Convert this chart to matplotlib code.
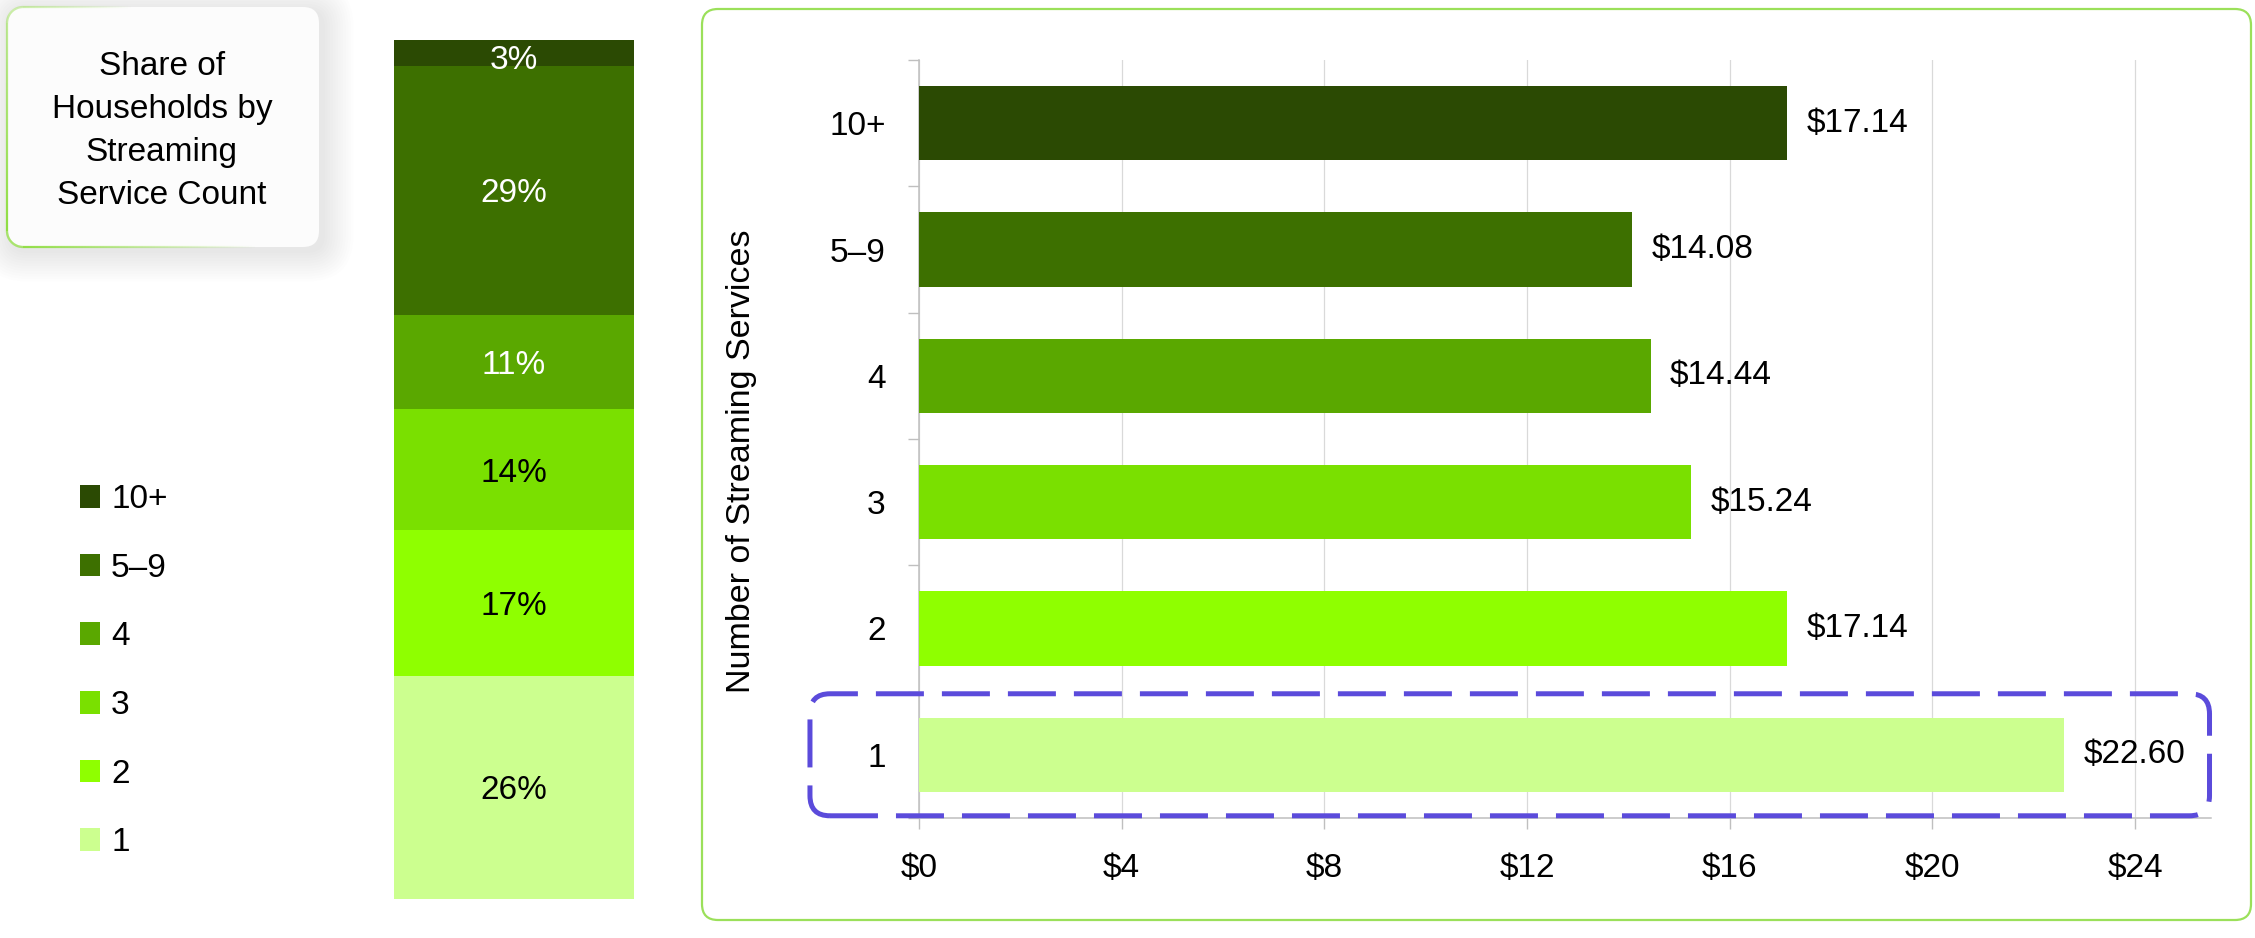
import matplotlib.pyplot as plt
import numpy as np
from matplotlib.patches import FancyBboxPatch
from matplotlib.collections import LineCollection
from matplotlib.colors import to_rgba

plt.rcParams['font.family'] = ['Liberation Sans', 'DejaVu Sans']

categories = ['1', '2', '3', '4', '5–9', '10+']
share_pct = [26, 17, 14, 11, 29, 3]
avg_spend = [22.60, 17.14, 15.24, 14.44, 14.08, 17.14]
colors = ['#CCFF8F', '#8FFF00', '#7AE000', '#5AA800', '#3D7000', '#2B4A03']
pct_text_colors = ['black', 'black', 'black', 'white', 'white', 'white']
spend_ticks = [0, 4, 8, 12, 16, 20, 24]
title = 'Share of\nHouseholds by\nStreaming\nService Count'
highlight = '1'

W, H = 2255, 938
fig = plt.figure(figsize=(W / 100, H / 100), dpi=100)


def rounded_rect(x0, y0, w, h, r, n=24):
    # closed outline of a rounded rectangle, corners as arcs
    pts = []
    corners = [(x0 + w - r, y0 + r, -90), (x0 + w - r, y0 + h - r, 0),
               (x0 + r, y0 + h - r, 90), (x0 + r, y0 + r, 180)]
    for cx, cy, a0 in corners:
        t = np.radians(np.linspace(a0, a0 + 90, n))
        pts.append(np.column_stack([cx + r * np.cos(t), cy + r * np.sin(t)]))
    pts = np.vstack(pts + [pts[0][:1]])
    return pts


# pixel canvas behind everything for the card backgrounds
bg = fig.add_axes([0, 0, 1, 1])
bg.set_xlim(0, W)
bg.set_ylim(0, H)
bg.axis('off')

# title card with soft shadow and a green edge fading to the right
tx, ty, tw, th = 7, 691, 312, 240
for i in range(12):
    p = 2 + i * 2.6
    bg.add_patch(FancyBboxPatch((tx + 4, ty - 4), tw, th,
                                boxstyle=f'round,pad={p},rounding_size={16 + p}',
                                fc='#000000', ec='none', alpha=0.007))
bg.add_patch(FancyBboxPatch((tx, ty), tw, th, boxstyle='round,pad=0,rounding_size=16',
                            fc='#FCFCFC', ec='none'))
pts = rounded_rect(tx, ty, tw, th, 16)
fine = []
for a, b in zip(pts[:-1], pts[1:]):
    k = max(2, int(np.hypot(*(b - a)) / 3))
    fine.append(np.linspace(a, b, k, endpoint=False))
fine = np.vstack(fine + [pts[-1:]])
segs = np.stack([fine[:-1], fine[1:]], axis=1)
mid = segs.mean(axis=1)
u = (mid[:, 0] - tx) / tw
v = (mid[:, 1] - ty) / th
alpha = np.clip(1 - (u + 0.4 * v) / 0.8, 0, 1)
seg_cols = np.array([to_rgba('#8CDD3C', a) for a in alpha])
bg.add_collection(LineCollection(segs, colors=seg_cols, linewidths=1.6))
fig.text(0.0718, 0.8603, title, ha='center', va='center', fontsize=24,
         linespacing=1.49, color='black')

# card around the spend chart
bg.add_patch(FancyBboxPatch((702, 18), 1549, 911, boxstyle='round,pad=0,rounding_size=16',
                            fc='white', ec='#9BE05A', lw=1.6))

# stacked share column
ax1 = fig.add_axes([0.1747, 0.0416, 0.1064, 0.9157])
ax1.patch.set_alpha(0)
bottom = 0
stack = []
for cat, pct, col, tcol in zip(categories, share_pct, colors, pct_text_colors):
    bars = ax1.bar(0, pct, width=1, bottom=bottom, color=col, label=cat)
    for t in ax1.bar_label(bars, labels=[f'{pct}%'], label_type='center',
                           color=tcol, fontsize=24):
        t.set_va('center_baseline')
        if pct < 5:
            # thin slice: keep the label from poking out above the column
            t.xyann = (0, -3)
    stack.append(bars)
    bottom += pct
ax1.set_xlim(-0.5, 0.5)
ax1.set_ylim(0, bottom)
ax1.axis('off')

fig.legend(handles=stack[::-1], labels=categories[::-1], loc='center left',
           bbox_to_anchor=(80 / W, 0.2845), frameon=False, fontsize=24,
           handlelength=0.6, handleheight=0.66, handletextpad=0.33,
           labelspacing=1.13, borderpad=0, borderaxespad=0)

# average spend bars
ax2 = fig.add_axes([0.4075, 0.128, 0.573, 0.808])
ax2.patch.set_alpha(0)
ypos = np.arange(len(categories))
hb = ax2.barh(ypos, avg_spend, height=0.59, color=colors, zorder=3)
ax2.bar_label(hb, labels=[f'${v:.2f}' for v in avg_spend], padding=14, fontsize=24)
ax2.set_xlim(0, 25.5)
ax2.set_ylim(-0.5, len(categories) - 0.5)
ax2.set_xticks(spend_ticks)
ax2.set_xticklabels([f'${t}' for t in spend_ticks])
ax2.set_yticks(ypos)
ax2.set_yticklabels(categories)
ax2.set_yticks(np.arange(-0.5, len(categories), 1), minor=True)
ax2.grid(axis='x', color='#D9D9D9', lw=0.9, zorder=0)
for side in ('top', 'right'):
    ax2.spines[side].set_visible(False)
for side in ('left', 'bottom'):
    ax2.spines[side].set_color('#BFBFBF')
    ax2.spines[side].set_linewidth(1.1)
ax2.tick_params(axis='x', length=8, color='#BFBFBF', width=1, pad=17, labelsize=24)
ax2.tick_params(axis='y', which='major', length=0, pad=24, labelsize=24)
ax2.tick_params(axis='y', which='minor', length=8, color='#BFBFBF', width=1)
ax2.set_ylabel('Number of Streaming Services', fontsize=24.5)
ax2.yaxis.set_label_coords(-0.125, 0.47)

# dashed highlight around the single-service row
fg = fig.add_axes([0, 0, 1, 1])
fg.set_xlim(0, W)
fg.set_ylim(0, H)
fg.axis('off')
row = categories.index(highlight)
(x0, y0), (x1, y1) = ax2.transData.transform([(-2.15, row - 0.483), (25.47, row + 0.483)])
fg.add_patch(FancyBboxPatch((x0, y0), x1 - x0, y1 - y0,
                            boxstyle='round,pad=0,rounding_size=20', fc='none',
                            ec='#5B4BDB', lw=3.6, ls=(0, (9.6, 3.6))))

fig.savefig('out.png', dpi=100)
